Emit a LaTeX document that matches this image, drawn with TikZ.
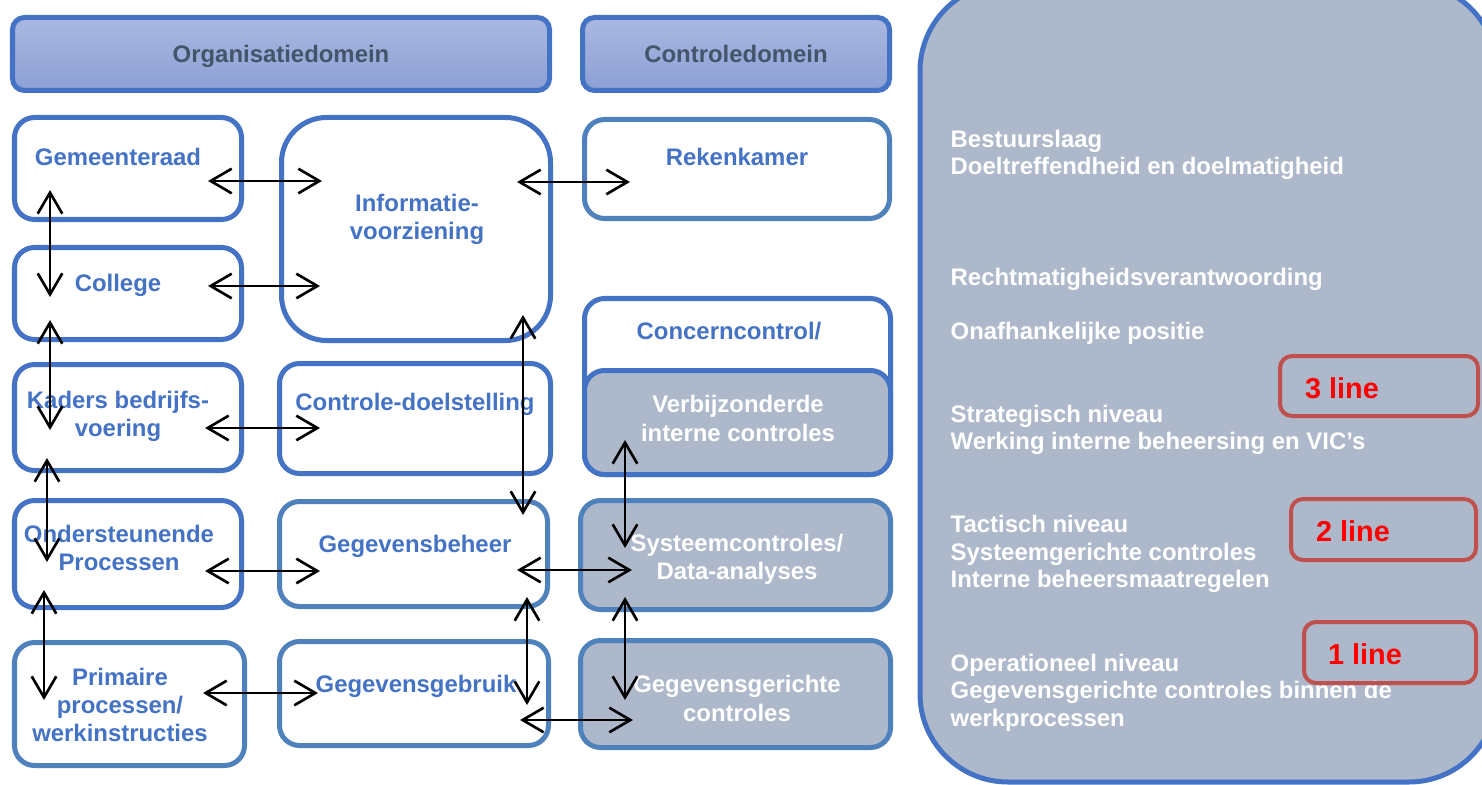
\documentclass[tikz,border=0pt]{standalone}
\usepackage{fontspec}
\setmainfont{Liberation Sans}
\usetikzlibrary{arrows.meta,calc}
\definecolor{bdblue}{HTML}{4472C4}
\definecolor{bdlight}{HTML}{4F81BD}
\definecolor{hdtop}{HTML}{A9B8E1}
\definecolor{hdbot}{HTML}{8DA0D4}
\definecolor{hdtext}{HTML}{44546A}
\definecolor{slate}{HTML}{ADB9CA}
\definecolor{redbd}{HTML}{C0504D}

\begin{document}
\begin{tikzpicture}[x=0.01cm,y=-0.01cm,
  sz/.style 2 args={minimum width=#1*0.01cm,minimum height=#2*0.01cm},
  frame/.style={draw=bdblue,line width=0.05cm,rounded corners=0.2cm,inner sep=0},
  box/.style={frame,fill=white},
  grey/.style={frame,fill=slate},
  head/.style={frame,rounded corners=0.12cm,top color=hdtop,bottom color=hdbot,
    text=hdtext,text depth=0pt,font=\bfseries\fontsize{6.8}{7.8}\selectfont},
  lbl/.style={text=bdblue,font=\bfseries\fontsize{6.8}{8.0}\selectfont,align=center,inner sep=0},
  wlbl/.style={lbl,text=white,align=left,anchor=west,font=\bfseries\fontsize{6.8}{7.8}\selectfont},
  redbox/.style={draw=redbd,line width=0.04cm,rounded corners=0.12cm,inner sep=0},
  redlbl/.style={text=red,font=\bfseries\fontsize{8.2}{9.8}\selectfont,inner sep=0},
  link/.style={<->,>={Straight Barb[length=6pt,width=7pt]},line width=0.75pt}]
\useasboundingbox (0,0) rectangle (1482,785);

\node[frame,fill=slate,rounded corners=0.88cm,sz={577}{799}] (panel) at (1208.5,382.5) {};

\node[head,sz={537}{73}] (orgdom) at (281,54) {Organisatiedomein};
\node[head,sz={307}{73}] (ctldom) at (736,54) {Controledomein};

\node[box,sz={227}{102}] (gem) at (128,168.5) {};
\node[box,sz={227}{92}] (col) at (128,293.5) {};
\node[box,sz={227}{106}] (kad) at (128,417.5) {};
\node[box,sz={227}{107}] (ond) at (128,554) {};
\node[box,draw=bdlight,sz={230}{123}] (pri) at (129.5,704) {};

\node[box,rounded corners=0.45cm,sz={269}{223}] (info) at (416,229) {};
\node[box,sz={271}{110}] (cdl) at (415,418.5) {};
\node[box,draw=bdlight,sz={268}{105}] (gbh) at (413.5,554) {};
\node[box,draw=bdlight,sz={269}{104}] (ggb) at (414,693.5) {};

\node[box,draw=bdlight,sz={305}{99}] (rek) at (737,169) {};
\node[box,sz={306}{176}] (con) at (737.5,386.5) {};
\node[grey,sz={306}{104}] (vic) at (737.5,422.5) {};
\node[grey,draw=bdlight,sz={310}{109}] (sys) at (735.5,555) {};
\node[grey,draw=bdlight,sz={310}{107}] (ggc) at (735.5,694) {};

\node[lbl] (gemtxt) at (118,157) {Gemeenteraad};
\node[lbl] (coltxt) at (118,285) {College};
\node[lbl] (kadtxt) at (118,416.5) {Kaders bedrijfs-\\voering};
\node[lbl] (ondtxt) at (119,548) {Ondersteunende\\Processen};
\node[lbl] (pritxt) at (120,705) {Primaire\\processen/\\werkinstructies};
\node[lbl] (infotxt) at (417,219.5) {Informatie-\\voorziening};
\node[lbl] (cdltxt) at (415,404.5) {Controle-doelstelling};
\node[lbl] (gbhtxt) at (415,546.5) {Gegevensbeheer};
\node[lbl] (ggbtxt) at (416,686.5) {Gegevensgebruik};
\node[lbl] (rektxt) at (737,157) {Rekenkamer};
\node[lbl] (context) at (729,331.5) {Concerncontrol/};
\node[lbl,text=white] (victxt) at (738,418.5) {Verbijzonderde\\interne controles};
\node[lbl,text=white] (systxt) at (737,559.5) {Systeemcontroles/\\Data-analyses};
\node[lbl,text=white] (ggctxt) at (737,698.5) {Gegevensgerichte\\controles};

\node[wlbl] (bestuur) at (950,155) {Bestuurslaag\\Doeltreffendheid en doelmatigheid};
\node[wlbl] (recht) at (950,279.5) {Rechtmatigheidsverantwoording};
\node[wlbl] (onafh) at (950,333.5) {Onafhankelijke positie};
\node[wlbl] (strat) at (950,430) {Strategisch niveau\\Werking interne beheersing en VIC’s};
\node[wlbl] (tact) at (950,554) {Tactisch niveau\\Systeemgerichte controles\\Interne beheersmaatregelen};
\node[wlbl] (oper) at (950,692.5) {Operationeel niveau\\Gegevensgerichte controles binnen de\\werkprocessen};

\node[redbox,sz={198}{60}] (line3) at (1379,386) {};
\node[redbox,sz={185}{61}] (line2) at (1383.5,529.5) {};
\node[redbox,sz={172}{61}] (line1) at (1390,652.5) {};
\node[redlbl] (line3txt) at (1342,388) {3 line};
\node[redlbl] (line2txt) at (1353,531) {2 line};
\node[redlbl] (line1txt) at (1365,654) {1 line};

\draw[link] ($(gem)+(80,12.5)$) -- ($(info)+(-94,-48)$);
\draw[link] ($(col)+(80,-7.5)$) -- ($(info)+(-96,57)$);
\draw[link] ($(kad)+(77,10.5)$) -- ($(cdl)+(-95,9.5)$);
\draw[link] ($(ond)+(77,17)$) -- ($(gbh)+(-93.5,17)$);
\draw[link] ($(pri)+(73.5,-11)$) -- ($(ggb)+(-96,-0.5)$);
\draw[link] ($(info)+(101,-47)$) -- ($(rek)+(-107,13)$);
\draw[link] ($(gbh)+(103.5,16)$) -- ($(sys)+(-103.5,15)$);
\draw[link] ($(ggb)+(106,26.5)$) -- ($(ggc)+(-102.5,26)$);
\draw[link] ($(gem)+(-78,21.5)$) -- ($(col)+(-78,3.5)$);
\draw[link] ($(col)+(-78,26.5)$) -- ($(kad)+(-78,12.5)$);
\draw[link] ($(kad)+(-81,40.5)$) -- ($(ond)+(-81,8)$);
\draw[link] ($(ond)+(-84,36)$) -- ($(pri)+(-85.5,-4)$);
\draw[link] ($(info)+(107,86)$) -- ($(gbh)+(109.5,-39)$);
\draw[link] ($(gbh)+(113.5,43)$) -- ($(ggb)+(113,11.5)$);
\draw[link] ($(vic)+(-112.5,17.5)$) -- ($(sys)+(-110.5,-7)$);
\draw[link] ($(sys)+(-110.5,42)$) -- ($(ggc)+(-110.5,6)$);
\end{tikzpicture}
\end{document}
